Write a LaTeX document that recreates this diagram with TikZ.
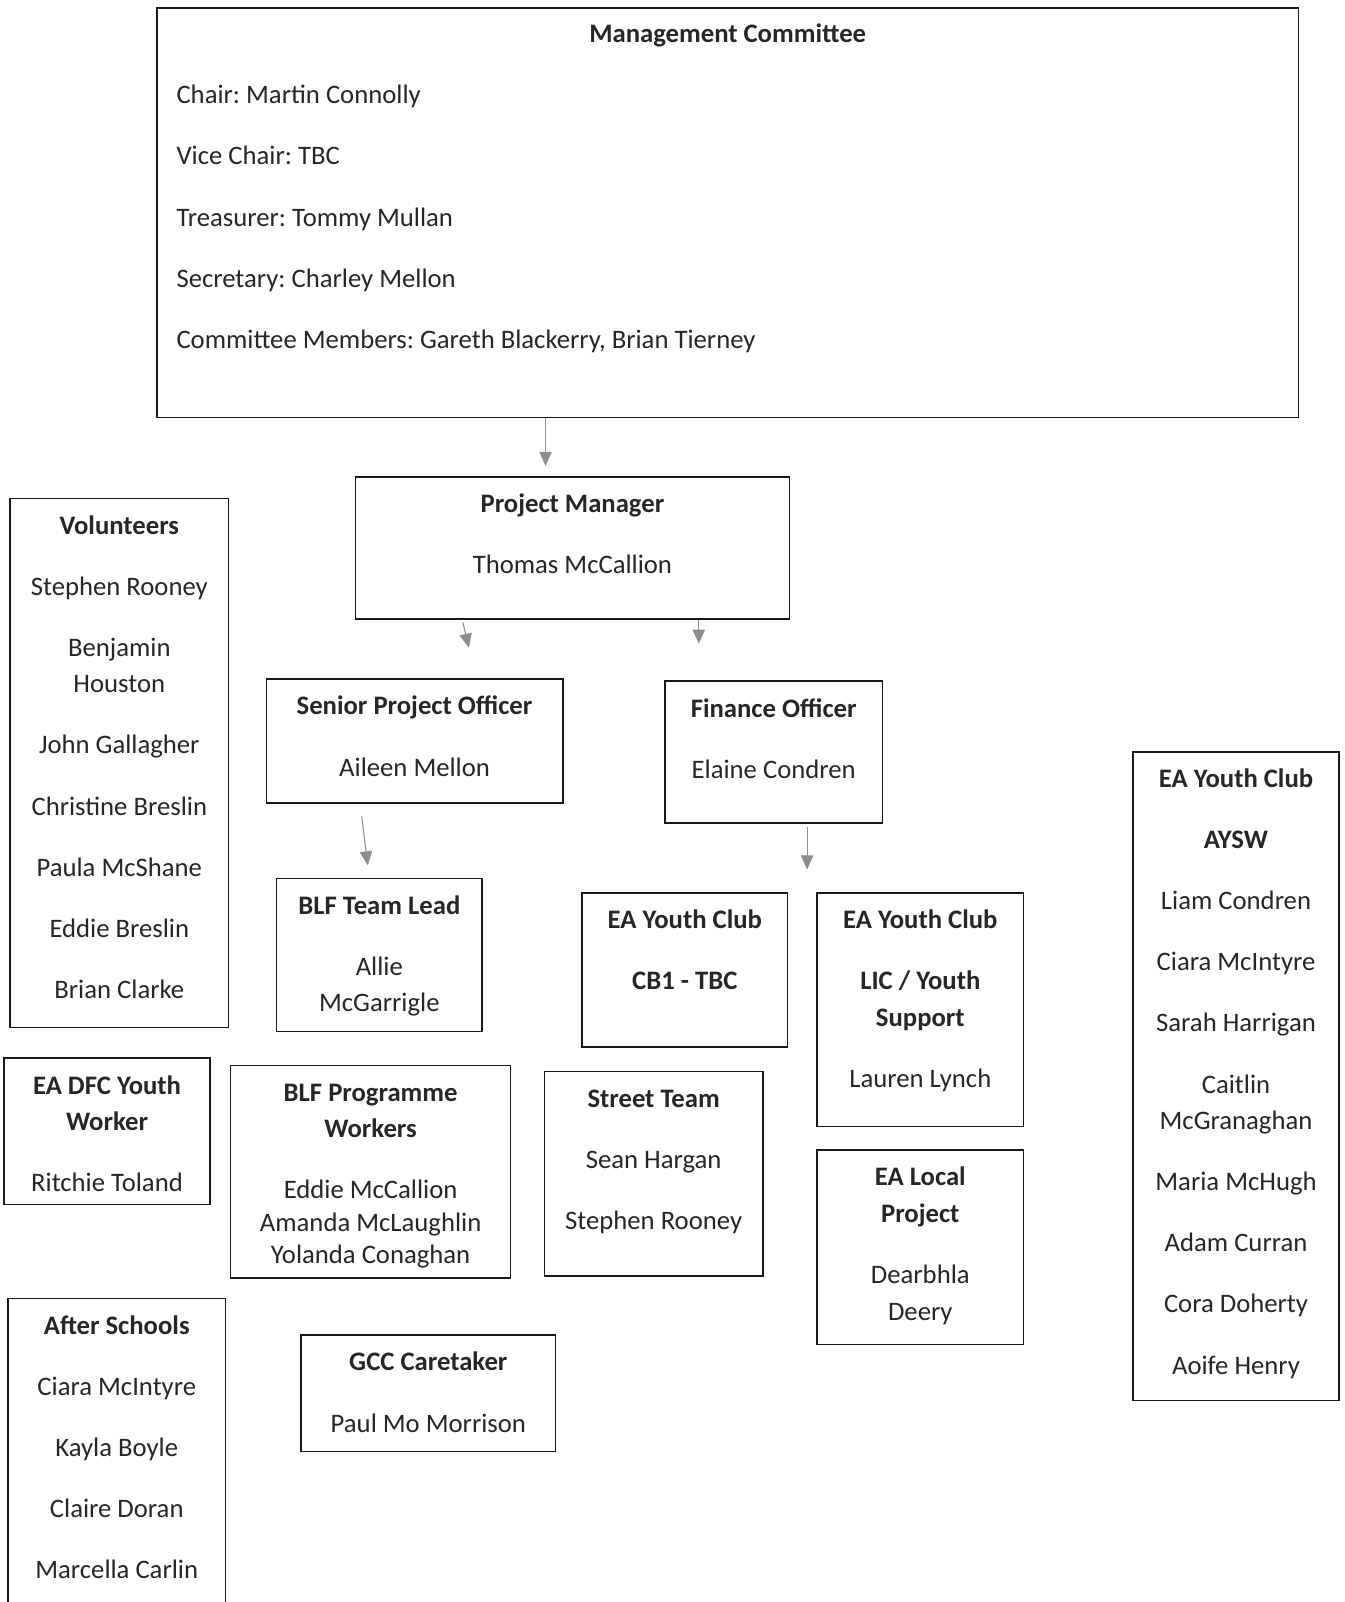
\documentclass[tikz,border=0pt]{standalone}
\usepackage{fontspec}
\setmainfont{Carlito}
\usetikzlibrary{arrows.meta}
\newlength{\unitpx}
\setlength{\unitpx}{0.02044cm}
\newcommand{\orgtext}[3]{\begin{minipage}[t][#2\unitpx][t]{#1\unitpx}\centering\rule{0pt}{35\unitpx}#3\end{minipage}}
\frenchspacing

\begin{document}
\begin{tikzpicture}[x=\unitpx, y=-\unitpx,
    orgbox/.style={draw=black!90, line width=0.9pt, inner sep=0pt, anchor=north west, text=black!85},
    arr/.style={draw=black!45, line width=0.6pt, -{Triangle[length=8pt, width=7pt]}},
    font=\fontsize{15.2}{20.8}\selectfont]
    \useasboundingbox (0,0) rectangle (1316,1568);

    \node[orgbox] (mc) at (153,7) {\begin{minipage}[t][401\unitpx][t]{1117\unitpx}
        \centering\rule{0pt}{34\unitpx}\textbf{Management Committee}\par\vspace{14pt}
        \raggedright\leftskip=19\unitpx
        Chair: Martin Connolly\\[14pt]
        Vice Chair: TBC\\[14pt]
        Treasurer: Tommy Mullan\\[14pt]
        Secretary: Charley Mellon\\[14pt]
        Committee Members: Gareth Blackerry, Brian Tierney
        \end{minipage}};
    \node[orgbox] (pm) at (347,466) {\orgtext{425}{139}{\textbf{Project Manager}\\[14pt] Thomas McCallion}};
    \node[orgbox] (spo) at (260,664) {\orgtext{290}{121}{\textbf{Senior Project Officer}\\[14pt] Aileen Mellon}};
    \node[orgbox] (fo) at (650,666) {\orgtext{213}{139}{\textbf{Finance Officer}\\[14pt] Elaine Condren}};
    \node[orgbox] (vol) at (9,487) {\orgtext{214}{518}{\textbf{Volunteers}\\[14pt] Stephen Rooney\\[14pt] Benjamin\\ Houston\\[14pt] John Gallagher\\[14pt] Christine Breslin\\[14pt] Paula McShane\\[14pt] Eddie Breslin\\[14pt] Brian Clarke}};
    \node[orgbox] (blftl) at (270,859) {\orgtext{201}{150}{\textbf{BLF Team Lead}\\[14pt] Allie\\ McGarrigle}};
    \node[orgbox] (cb) at (569,873) {\orgtext{201}{151}{\textbf{EA Youth Club}\\[14pt] \textbf{CB1 - TBC}}};
    \node[orgbox] (lic) at (799,873) {\orgtext{202}{229}{\textbf{EA Youth Club}\\[14pt] \textbf{LIC / Youth}\\ \textbf{Support}\\[14pt] Lauren Lynch}};
    \node[orgbox] (aysw) at (1108,735) {\orgtext{202}{635}{\textbf{EA Youth Club}\\[14pt] \textbf{AYSW}\\[14pt] Liam Condren\\[14pt] Ciara McIntyre\\[14pt] Sarah Harrigan\\[14pt] Caitlin\\ McGranaghan\\[14pt] Maria McHugh\\[14pt] Adam Curran\\[14pt] Cora Doherty\\[14pt] Aoife Henry}};
    \node[orgbox] (dfc) at (3,1035) {\orgtext{202}{143}{\textbf{EA DFC Youth}\\ \textbf{Worker}\\[14pt] Ritchie Toland}};
    \node[orgbox] (blfpw) at (225,1042) {\orgtext{274}{208}{\textbf{BLF Programme}\\ \textbf{Workers}\\[14pt] Eddie McCallion\\[-2.3pt] Amanda McLaughlin\\[-2.3pt] Yolanda Conaghan}};
    \node[orgbox] (st) at (532,1048) {\orgtext{214}{200}{\textbf{Street Team}\\[14pt] Sean Hargan\\[14pt] Stephen Rooney}};
    \node[orgbox] (local) at (799,1125) {\orgtext{202}{190}{\textbf{EA Local}\\ \textbf{Project}\\[14pt] Dearbhla\\ Deery}};
    \node[orgbox] (after) at (7,1270) {\orgtext{213}{400}{\textbf{After Schools}\\[14pt] Ciara McIntyre\\[14pt] Kayla Boyle\\[14pt] Claire Doran\\[14pt] Marcella Carlin}};
    \node[orgbox] (gcc) at (294,1306) {\orgtext{249}{114}{\textbf{GCC Caretaker}\\[14pt] Paul Mo Morrison}};

    \coordinate (pmin) at (534,456);
    \coordinate (spoin) at (459,634);
    \coordinate (foin) at (684,630);
    \coordinate (spoout) at (354,799);
    \coordinate (blfin) at (360,847);
    \coordinate (foout) at (790,809);
    \coordinate (ycin) at (790,851);
    \coordinate (pmout) at (453,609);

    \draw[arr] (mc.south -| pmin) -- (pmin);
    \draw[arr] (pmout) -- (spoin);
    \draw[arr] (pm.south -| foin) -- (foin);
    \draw[arr] (spoout) -- (blfin);
    \draw[arr] (foout) -- (ycin);
\end{tikzpicture}
\end{document}
